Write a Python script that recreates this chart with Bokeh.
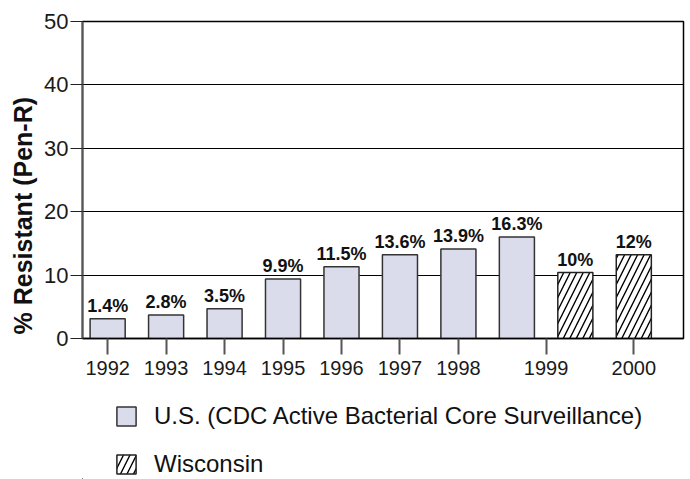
from bokeh.plotting import figure
from bokeh.layouts import column
from bokeh.models import (ColumnDataSource, Range1d, FixedTicker, Legend, LegendItem,
                          Title)
from bokeh.embed import file_html
from bokeh.resources import INLINE
from bokeh.core.properties import value

# ---- data ----
bar_years = ["1992", "1993", "1994", "1995", "1996", "1997", "1998", "1999", "1999", "2000"]
bar_series = ["U.S.", "U.S.", "U.S.", "U.S.", "U.S.", "U.S.", "U.S.", "U.S.", "Wisconsin", "Wisconsin"]
bar_heights = [3.1, 3.7, 4.7, 9.4, 11.3, 13.2, 14.1, 16.0, 10.4, 13.2]
bar_labels = ["1.4%", "2.8%", "3.5%", "9.9%", "11.5%", "13.6%", "13.9%", "16.3%", "10%", "12%"]
series_names = ["U.S.", "Wisconsin"]
legend_labels = ["U.S. (CDC Active Bacterial Core Surveillance)", "Wisconsin"]
y_ticks = [0, 10, 20, 30, 40, 50]
y_title = "% Resistant (Pen-R)"

FONT = "Liberation Sans"
US_STYLE = dict(fill_color="#dadcec", line_color="#333333", line_width=1.5)
WI_STYLE = dict(fill_color="white", line_color="#222222", line_width=1.5,
                hatch_pattern="/", hatch_color="black", hatch_weight=1.4, hatch_scale=13)

idx = list(range(len(bar_years)))

def subset(series):
    keep = [i for i in idx if bar_series[i] == series]
    return ColumnDataSource(dict(
        x=[idx[i] for i in keep],
        top=[bar_heights[i] for i in keep],
        label=[bar_labels[i] for i in keep],
    ))

src_us = subset(series_names[0])
src_wi = subset(series_names[1])
src_all = ColumnDataSource(dict(x=idx, top=bar_heights, label=bar_labels))

# tick positions: one per year, centred under that year's bars
year_order = []
for y in bar_years:
    if y not in year_order:
        year_order.append(y)
tick_pos = []
overrides = {}
for y in year_order:
    xs = [idx[i] for i in idx if bar_years[i] == y]
    pos = sum(xs) / len(xs)
    tick_pos.append(pos)
    overrides[pos] = y

p = figure(frame_width=601, frame_height=317,
           x_range=Range1d(-0.43, 9.85), y_range=Range1d(0, 50),
           output_backend="svg", toolbar_location=None,
           min_border_left=82, min_border_right=5, min_border_top=21, min_border_bottom=46)

p.background_fill_color = "white"
p.border_fill_color = "white"
p.outline_line_color = "black"
p.outline_line_width = 1.5

# grid
p.xgrid.visible = False
p.ygrid.ticker = FixedTicker(ticks=y_ticks)
p.ygrid.grid_line_color = "black"
p.ygrid.grid_line_width = 1.2

# y axis
p.yaxis.ticker = FixedTicker(ticks=y_ticks)
p.yaxis.axis_line_color = "#555555"
p.yaxis.axis_line_width = 2
p.yaxis.major_tick_out = 12
p.yaxis.major_tick_in = 0
p.yaxis.major_tick_line_color = "#222222"
p.yaxis.major_tick_line_width = 1.2
p.yaxis.minor_tick_line_color = None
p.yaxis.major_label_text_font = FONT
p.yaxis.major_label_text_font_size = "22px"
p.yaxis.major_label_text_color = "#1a1a1a"
p.yaxis.major_label_standoff = 2

# x axis
p.xaxis.ticker = FixedTicker(ticks=tick_pos)
p.xaxis.major_label_overrides = overrides
p.xaxis.axis_line_color = "black"
p.xaxis.axis_line_width = 1.5
p.xaxis.major_tick_out = 16
p.xaxis.major_tick_in = 0
p.xaxis.major_tick_line_color = "#555555"
p.xaxis.major_tick_line_width = 2
p.xaxis.minor_tick_line_color = None
p.xaxis.major_label_text_font = FONT
p.xaxis.major_label_text_font_size = "20px"
p.xaxis.major_label_text_color = "#1a1a1a"
p.xaxis.major_label_standoff = 6

# bars
p.vbar(x="x", top="top", bottom=0, width=0.6, source=src_us, **US_STYLE)
p.vbar(x="x", top="top", bottom=0, width=0.6, source=src_wi, **WI_STYLE)

# value labels
p.text(x="x", y="top", text="label", source=src_all,
       text_font=value(FONT), text_font_style="bold", text_font_size="18px",
       text_align="center", text_baseline="bottom", y_offset=-3, text_color="#111111")

# y title (starts just above the x axis, reads bottom to top)
t = Title(text=y_title, text_font=FONT, text_font_size="25px", text_font_style="bold",
          align="left", offset=4, text_color="#111111")
p.add_layout(t, "left")

# ---- legend figure below the chart (its frame is aligned with the chart frame) ----
leg = figure(width=688, height=95, x_range=(100, 101), y_range=(100, 101),
             output_backend="svg", toolbar_location=None,
             x_axis_location=None, y_axis_location=None,
             min_border_left=0, min_border_right=0, min_border_top=0, min_border_bottom=0)
leg.outline_line_color = None
leg.grid.visible = False
leg.background_fill_color = "white"
leg.border_fill_color = "white"
# same data, drawn off-range here: only the legend swatches show
r_us = leg.vbar(x="x", top="top", bottom=0, width=0.6, source=src_us, **US_STYLE)
r_wi = leg.vbar(x="x", top="top", bottom=0, width=0.6, source=src_wi, **WI_STYLE)

legend = Legend(items=[LegendItem(label=legend_labels[0], renderers=[r_us]),
                       LegendItem(label=legend_labels[1], renderers=[r_wi])],
                location=(32, 1), orientation="vertical",
                glyph_width=24, glyph_height=24, label_standoff=16, spacing=20,
                label_text_font=FONT, label_text_font_size="24px",
                label_text_color="#111111", label_height=24,
                border_line_color=None, background_fill_alpha=0,
                margin=0, padding=0)
leg.add_layout(legend, "center")

layout = column(p, leg, spacing=0)
open("out.html", "w").write(file_html(layout, INLINE))
